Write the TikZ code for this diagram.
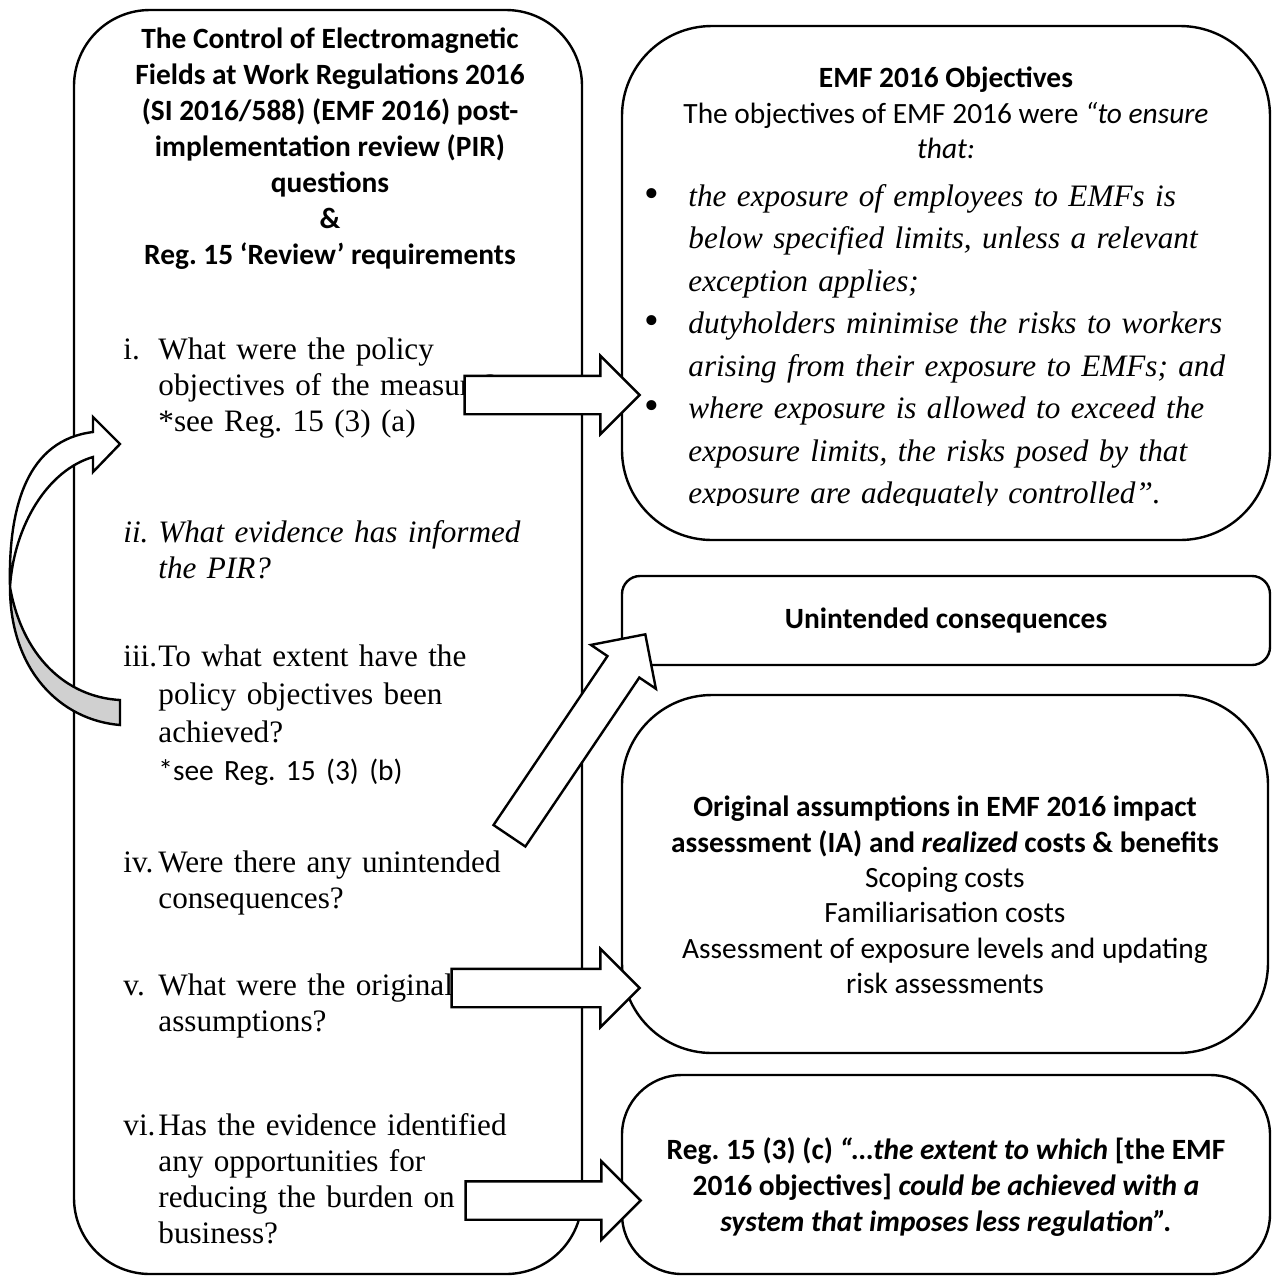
\documentclass[tikz,border=0pt]{standalone}
\usepackage{fontspec}
\setmainfont{Liberation Serif}
\setsansfont{Carlito}
\usetikzlibrary{shapes.arrows}
\frenchspacing

\definecolor{backgray}{RGB}{208,208,208}

\begin{document}
\begin{tikzpicture}[x=0.5pt,y=-0.5pt,
    box/.style={draw,line width=1.2pt,rounded corners=#1,inner sep=0pt},
    head/.style={font=\sffamily\bfseries\fontsize{14.7}{18}\selectfont,align=center,inner sep=0pt},
    body/.style={font=\sffamily\fontsize{14.7}{17.7}\selectfont,align=center,inner sep=0pt},
    qnum/.style={font=\fontsize{15.6}{18}\selectfont,anchor=base west,inner sep=0pt},
    qtext/.style={font=\fontsize{15.6}{18}\selectfont,anchor=base west,text width=215pt,align=left,inner sep=0pt},
    btext/.style={font=\itshape\fontsize{15.6}{21.25}\selectfont,anchor=base west,text width=300pt,align=left,inner sep=0pt},
    blockarrow/.style={single arrow,draw,fill=white,line width=1.2pt,inner sep=9pt,
      single arrow head extend=10pt,single arrow tip angle=90,minimum height=#1},
    curvedarrow/.style={draw,line width=1.2pt,line join=miter}]

  \useasboundingbox (0,0) rectangle (1272,1276);

  % boxes
  \node[box=38pt,minimum width=254pt,minimum height=632pt] (pir) at (328,642) {};
  \node[box=45pt,minimum width=324pt,minimum height=257pt] (obj) at (946,283) {};
  \node[box=9pt,minimum width=324pt,minimum height=44.5pt] (unint) at (946,620.5) {};
  \node[box=45pt,minimum width=323pt,minimum height=179pt] (assum) at (945,874) {};
  \node[box=30pt,minimum width=324pt,minimum height=99.5pt] (reg) at (946,1174.5) {};

  % left box: title and questions
  \node[head] (pirtitle) at (330,149) {The Control of Electromagnetic\\
    Fields at Work Regulations 2016\\
    (SI 2016/588) (EMF 2016) post-\\
    implementation review (PIR)\\
    questions\\
    \&\\
    Reg. 15 ‘Review’ requirements};

  \node[qnum] (n1) at (123,359) {i.};
  \node[qtext] (q1) at (158,359) {What were the policy\\objectives of the measure?\\{}*see Reg. 15 (3) (a)};
  \node[qnum,font=\itshape\fontsize{15.6}{18}\selectfont] (n2) at (123,542) {ii.};
  \node[qtext,font=\itshape\fontsize{15.6}{18}\selectfont] (q2) at (158,542) {What evidence has informed\\the PIR?};
  \node[qnum] (n3) at (123,666) {iii.};
  \node[qtext,font=\fontsize{15.6}{19}\selectfont] (q3) at (158,666) {To what extent have the\\policy objectives been\\achieved?\\{\sffamily\fontsize{14.7}{19}\selectfont *see Reg. 15 (3) (b)}};
  \node[qnum] (n4) at (123,872) {iv.};
  \node[qtext] (q4) at (158,872) {Were there any unintended\\consequences?};
  \node[qnum] (n5) at (123,995) {v.};
  \node[qtext] (q5) at (158,995) {What were the original\\assumptions?};
  \node[qnum] (n6) at (123,1135) {vi.};
  \node[qtext] (q6) at (158,1135) {Has the evidence identified\\any opportunities for\\reducing the burden on\\business?};

  % objectives box
  \node[body] (objtitle) at (946,113) {{\bfseries EMF 2016 Objectives}\\
    The objectives of EMF 2016 were \textit{“to ensure}\\
    \textit{that:}};
  \begin{scope}[every node/.style={font=\fontsize{21}{21.25}\selectfont,anchor=base,inner sep=0pt}]
    \node (b1) at (652,207) {\textbullet};
    \node (b2) at (652,334.5) {\textbullet};
    \node (b3) at (652,419.5) {\textbullet};
  \end{scope}
  \node[btext] (o1) at (688,206) {the exposure of employees to EMFs is\\below specified limits, unless a relevant\\exception applies;};
  \node[btext] (o2) at (688,333.5) {dutyholders minimise the risks to workers\\arising from their exposure to EMFs; and};
  \begin{scope}
    \clip (600,26) rectangle (1272,505);
    \node[btext] (o3) at (688,418.5) {where exposure is allowed to exceed the\\exposure limits, the risks posed by that\\exposure are adequately controlled”.};
  \end{scope}

  % right hand boxes
  \node[head] (uctext) at (946,620) {Unintended consequences};
  \node[body] (astext) at (945,895) {{\bfseries Original assumptions in EMF 2016 impact}\\
    {\bfseries assessment (IA) and \textit{realized} costs \& benefits}\\
    Scoping costs\\
    Familiarisation costs\\
    Assessment of exposure levels and updating\\
    risk assessments};
  \node[head] (rgtext) at (946,1187) {Reg. 15 (3) (c) \textit{“…the extent to which} [the EMF\\
    2016 objectives] \textit{could be achieved with a}\\
    \textit{system that imposes less regulation”.}};

  % block arrows
  \node[blockarrow=87.5pt] (a1) at (542.5,395) {};
  \node[blockarrow=121.5pt,rotate=56] (a2) at (572,743) {};
  \node[blockarrow=94pt] (a3) at (536,988) {};
  \node[blockarrow=87.5pt] (a4) at (543.5,1200.5) {};

  % curved arrow back to question i
  \draw[curvedarrow,fill=white] (93,432) .. controls (28,440) and (8,505) .. (10,587)
    .. controls (14,525) and (48,470) .. (93,457) -- (93,472) -- (120,444) -- (93,417) -- cycle;
  \draw[curvedarrow,fill=backgray] (10,587) .. controls (10,670) and (60,720) .. (120,725)
    -- (120,700) .. controls (65,697) and (22,655) .. (10,587) -- cycle;

\end{tikzpicture}
\end{document}
